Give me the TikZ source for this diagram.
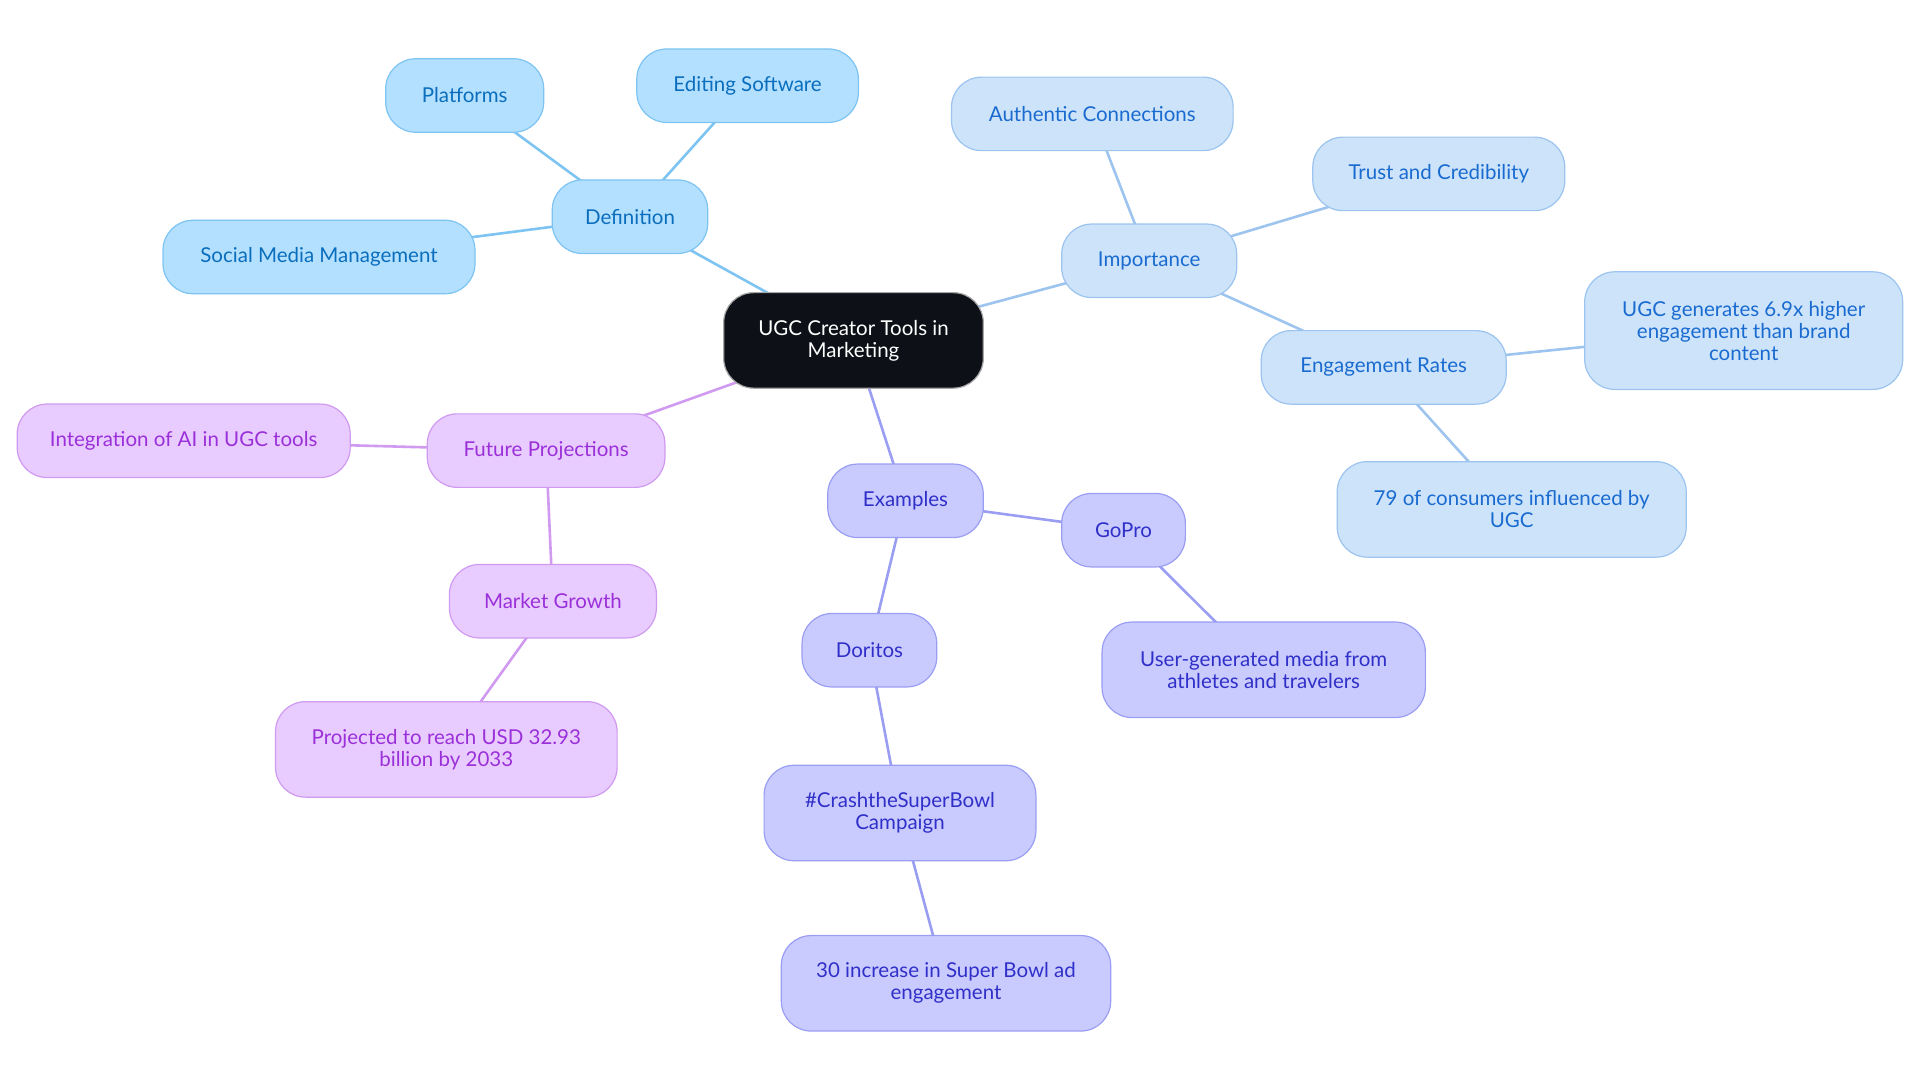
\documentclass[tikz,border=0pt]{standalone}
\usepackage{fontspec}
\setmainfont{Lato}
\usetikzlibrary{backgrounds}
\definecolor{defFill}{HTML}{B3E0FF}
\definecolor{defDraw}{HTML}{7EC4F2}
\definecolor{defText}{HTML}{0A6EBD}
\definecolor{impFill}{HTML}{CCE3FA}
\definecolor{impDraw}{HTML}{9CC4EE}
\definecolor{impText}{HTML}{1A6BD0}
\definecolor{exFill}{HTML}{C9CBFF}
\definecolor{exDraw}{HTML}{9A9EF2}
\definecolor{exText}{HTML}{3030C8}
\definecolor{fuFill}{HTML}{E8CCFF}
\definecolor{fuDraw}{HTML}{D09AF0}
\definecolor{fuText}{HTML}{9B30D9}
\definecolor{rootFill}{HTML}{0D1117}
\tikzset{
  box/.style={draw, line width=1.2pt, rounded corners=30pt, inner sep=0pt, align=center,
    font=\fontsize{20.5}{22}\selectfont, minimum height=73.5pt},
  tall/.style={minimum height=95.5pt},
  taller/.style={minimum height=117.6pt},
  defn/.style={box, fill=defFill, draw=defDraw, text=defText},
  imp/.style={box, fill=impFill, draw=impDraw, text=impText},
  exm/.style={box, fill=exFill, draw=exDraw, text=exText},
  fut/.style={box, fill=fuFill, draw=fuDraw, text=fuText},
  rootbox/.style={box, fill=rootFill, draw=gray!70, text=white},
  link/.style={line width=2.6pt},
}
\begin{document}
\begin{tikzpicture}[x=1pt,y=-1pt]
\useasboundingbox (0,0) rectangle (1920,1083);
\node[rootbox, tall, minimum width=259.6pt] (root) at (853.5,340.4) {UGC Creator Tools in\\Marketing};
% Definition
\node[defn, minimum width=155.5pt] (def) at (630,216.7) {Definition};
\node[defn, minimum width=158pt] (plat) at (464.7,95.5) {Platforms};
\node[defn, minimum width=221.6pt] (edit) at (747.6,85.7) {Editing Software};
\node[defn, minimum width=312pt] (smm) at (319,257) {Social Media Management};
% Importance
\node[imp, minimum width=175pt] (imp) at (1149.2,260.8) {Importance};
\node[imp, minimum width=281.6pt] (auth) at (1092.3,113.9) {Authentic Connections};
\node[imp, minimum width=252pt] (trust) at (1438.8,173.9) {Trust and Credibility};
\node[imp, minimum width=245pt] (eng) at (1383.7,367.4) {Engagement Rates};
\node[imp, taller, minimum width=318pt] (ugcgen) at (1743.7,330.6) {UGC generates 6.9x higher\\engagement than brand\\content};
\node[imp, tall, minimum width=349pt] (cons) at (1511.7,509.4) {79 of consumers influenced by\\UGC};
% Examples
\node[exm, minimum width=155.5pt] (ex) at (905.5,500.8) {Examples};
\node[exm, minimum width=123.7pt] (gopro) at (1123.5,530.2) {GoPro};
\node[exm, tall, minimum width=323.3pt] (usergen) at (1263.7,669.8) {User-generated media from\\athletes and travelers};
\node[exm, minimum width=134.7pt] (dor) at (869.4,650.2) {Doritos};
\node[exm, tall, minimum width=271.8pt] (crash) at (900,813) {\#CrashtheSuperBowl\\Campaign};
\node[exm, tall, minimum width=329.4pt] (incr) at (946,983.3) {30 increase in Super Bowl ad\\engagement};
% Future
\node[fut, minimum width=237.6pt] (fut) at (546.1,450.6) {Future Projections};
\node[fut, minimum width=333pt] (ai) at (183.7,440.8) {Integration of AI in UGC tools};
\node[fut, minimum width=207pt] (mkt) at (552.9,601.2) {Market Growth};
\node[fut, tall, minimum width=341.6pt] (proj) at (446.3,749.4) {Projected to reach USD 32.93\\billion by 2033};
\begin{scope}[on background layer]
\draw[link, draw=defDraw] (root.center) -- (def.center);
\draw[link, draw=defDraw] (def.center) -- (plat.center);
\draw[link, draw=defDraw] (def.center) -- (edit.center);
\draw[link, draw=defDraw] (def.center) -- (smm.center);
\draw[link, draw=impDraw] (root.center) -- (imp.center);
\draw[link, draw=impDraw] (imp.center) -- (auth.center);
\draw[link, draw=impDraw] (imp.center) -- (trust.center);
\draw[link, draw=impDraw] (imp.center) -- (eng.center);
\draw[link, draw=impDraw] (eng.center) -- (ugcgen.center);
\draw[link, draw=impDraw] (eng.center) -- (cons.center);
\draw[link, draw=exDraw] (root.center) -- (ex.center);
\draw[link, draw=exDraw] (ex.center) -- (gopro.center);
\draw[link, draw=exDraw] (gopro.center) -- (usergen.center);
\draw[link, draw=exDraw] (ex.center) -- (dor.center);
\draw[link, draw=exDraw] (dor.center) -- (crash.center);
\draw[link, draw=exDraw] (crash.center) -- (incr.center);
\draw[link, draw=fuDraw] (root.center) -- (fut.center);
\draw[link, draw=fuDraw] (fut.center) -- (ai.center);
\draw[link, draw=fuDraw] (fut.center) -- (mkt.center);
\draw[link, draw=fuDraw] (mkt.center) -- (proj.center);
\end{scope}
\end{tikzpicture}
\end{document}
